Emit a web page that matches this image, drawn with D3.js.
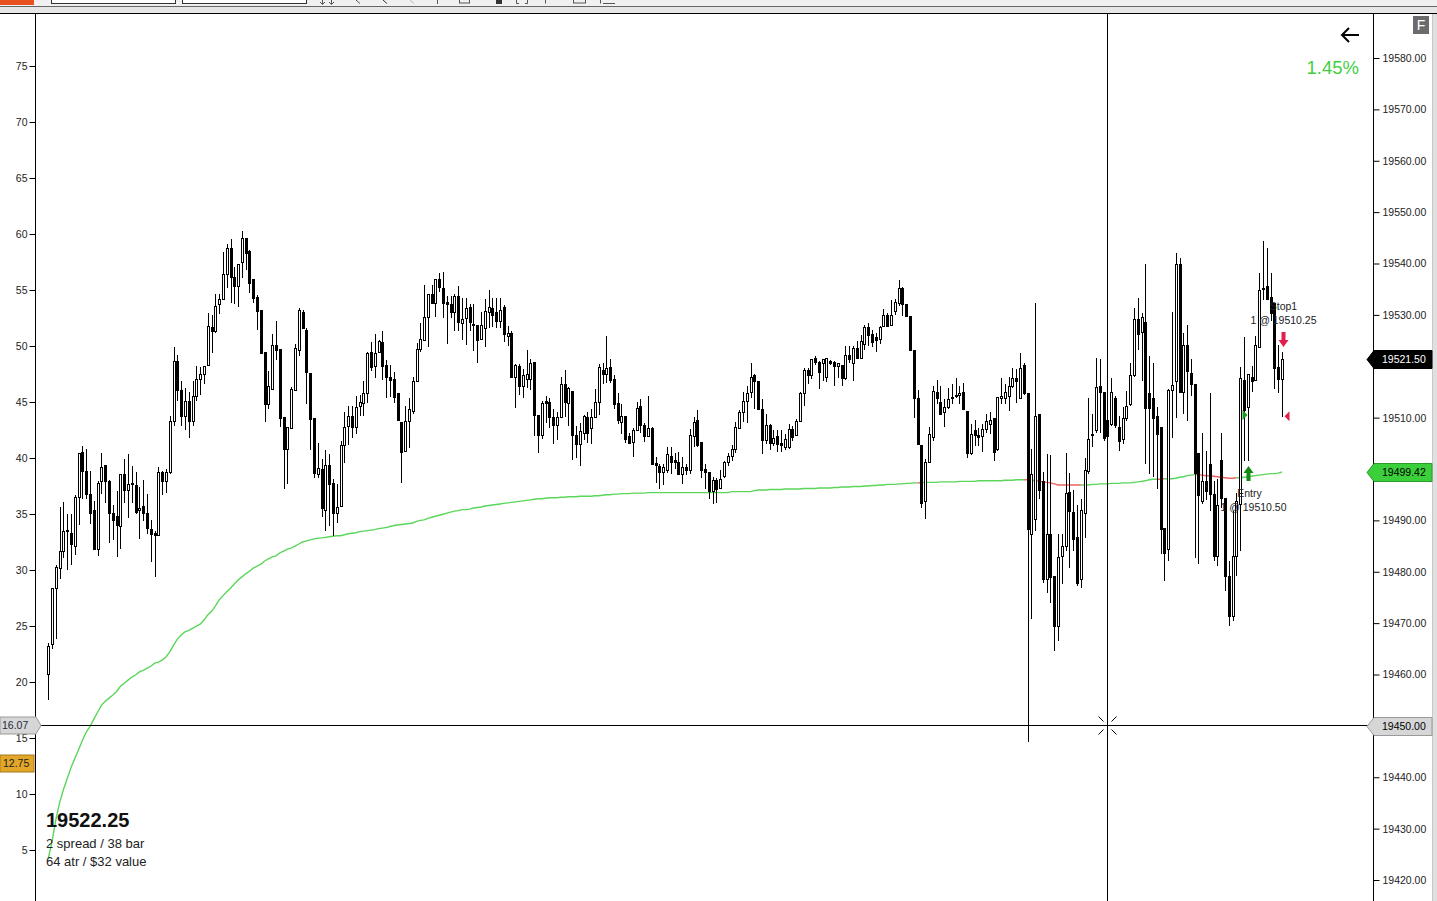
<!DOCTYPE html>
<html><head><meta charset="utf-8">
<script src="https://cdn.jsdelivr.net/npm/d3@7"></script>
<style>
html,body{margin:0;padding:0;background:#fff;overflow:hidden}
svg{display:block}
text{font-family:"Liberation Sans",Arial,sans-serif}
</style></head><body>
<svg id="c" width="1437" height="901"></svg>
<script>
// ---------------- DATA ----------------
const candleOpen = [19460.1,19465.9,19476.8,19480.7,19484.1,19488.0,19487.6,19485.0,19494.6,19503.4,
19499.7,19495.2,19492.0,19484.4,19497.7,19500.8,19497.7,19491.5,19490.9,19488.9,
19499.1,19495.9,19497.3,19496.9,19492.0,19492.8,19491.5,19488.3,19487.6,19487.2,
19499.5,19497.7,19499.5,19509.4,19521.1,19515.3,19510.4,19513.3,19509.4,19514.3,
19517.6,19518.4,19520.3,19527.7,19526.8,19532.2,19533.0,19537.9,19543.1,19537.3,
19535.7,19540.2,19544.9,19542.4,19536.9,19533.4,19530.9,19522.7,19512.7,19515.6,
19524.2,19523.4,19510.2,19503.9,19507.9,19515.4,19523.2,19530.5,19527.1,19518.6,
19510.0,19499.1,19500.0,19492.0,19500.8,19497.3,19491.5,19492.8,19504.7,19508.4,
19510.4,19508.1,19512.3,19512.9,19514.7,19522.7,19520.1,19522.7,19524.8,19520.3,
19518.0,19517.6,19514.7,19509.2,19503.6,19509.4,19511.2,19517.2,19523.4,19525.2,
19529.5,19534.0,19532.4,19536.9,19535.3,19532.6,19532.2,19530.5,19533.6,19528.5,
19529.3,19531.6,19528.3,19528.1,19525.4,19527.5,19530.5,19531.4,19530.5,19528.9,
19531.6,19525.8,19526.4,19518.0,19520.1,19516.2,19517.6,19517.6,19520.9,19510.6,
19506.7,19513.3,19513.1,19510.2,19508.6,19510.2,19516.6,19512.9,19515.1,19506.7,
19504.9,19507.1,19510.2,19507.9,19510.2,19513.1,19519.3,19518.4,19519.9,19517.6,
19512.9,19509.2,19510.4,19506.5,19505.3,19507.5,19512.3,19508.6,19506.5,19507.9,
19501.2,19500.6,19499.5,19499.9,19502.6,19501.8,19501.4,19499.1,19500.4,19499.9,
19506.5,19509.6,19505.3,19500.0,19499.5,19495.8,19497.9,19496.3,19498.7,19501.4,
19502.6,19503.9,19507.9,19511.0,19513.3,19514.9,19518.2,19517.2,19511.7,19505.7,
19508.6,19505.1,19506.5,19505.1,19504.2,19504.2,19507.7,19506.7,19509.4,19514.7,
19519.3,19518.2,19521.7,19520.9,19520.7,19518.0,19521.1,19520.9,19520.1,19520.3,
19517.8,19522.1,19520.7,19523.6,19521.7,19524.4,19527.7,19526.2,19525.6,19525.4,
19527.9,19529.9,19528.1,19530.7,19532.4,19535.3,19532.2,19529.7,19523.2,19513.9,
19504.7,19493.8,19501.4,19506.3,19514.9,19513.1,19511.0,19512.0,19513.9,19514.5,
19514.5,19514.9,19511.2,19503.2,19507.5,19506.7,19506.5,19507.7,19508.8,19510.0,
19503.9,19513.9,19513.9,19514.3,19516.2,19517.8,19513.9,19520.3,19514.7,19487.4,
19490.3,19510.8,19497.7,19478.6,19487.4,19479.2,19469.4,19483.1,19485.0,19495.6,
19491.7,19486.8,19478.6,19491.5,19499.7,19506.7,19507.5,19516.1,19514.9,19509.6,
19508.8,19513.9,19508.2,19505.9,19510.0,19512.7,19518.2,19529.1,19526.6,19528.7,
19514.7,19513.9,19510.4,19508.2,19488.5,19484.4,19515.4,19517.2,19540.0,19514.9,
19524.2,19518.6,19516.6,19503.2,19493.8,19497.7,19501.0,19495.2,19483.1,19501.8,
19494.4,19479.2,19471.4,19483.1,19493.2,19517.4,19512.0,19518.0,19517.4,19523.7,
19535.2,19535.7,19533.4,19532.4,19519.9,19517.6];

const candleHigh = [19466.1,19476.8,19481.3,19492.6,19493.6,19491.3,19491.3,19495.0,19503.2,19504.5,
19503.9,19499.7,19493.8,19497.7,19503.2,19500.8,19497.9,19493.0,19495.8,19499.1,
19502.0,19503.0,19500.6,19499.5,19496.5,19497.9,19495.2,19490.1,19488.0,19500.4,
19499.7,19500.0,19510.4,19523.7,19522.1,19517.2,19515.7,19514.9,19517.2,19520.1,
19519.9,19520.1,19530.3,19529.9,19534.0,19534.0,19542.2,19543.7,19544.7,19539.4,
19540.0,19546.3,19544.9,19542.7,19536.9,19533.8,19530.9,19522.7,19519.0,19526.2,
19528.9,19523.4,19510.2,19508.1,19516.0,19524.4,19531.4,19530.9,19527.5,19518.6,
19510.0,19505.1,19502.0,19503.7,19503.0,19498.1,19497.1,19505.5,19511.0,19512.3,
19512.3,19514.3,19514.5,19517.2,19522.7,19524.8,19526.2,19525.2,19526.8,19521.3,
19520.3,19518.8,19514.7,19509.2,19512.3,19513.9,19518.0,19524.6,19528.5,19535.9,
19534.0,19535.9,19536.9,19538.1,19538.3,19533.6,19533.6,19534.0,19535.7,19533.2,
19533.2,19532.2,19532.2,19528.1,19530.5,19533.0,19534.8,19533.2,19533.2,19533.2,
19532.0,19527.9,19526.8,19520.5,19520.5,19519.5,19523.2,19521.5,19520.9,19510.6,
19513.3,19514.3,19513.9,19511.7,19511.0,19518.0,19519.2,19516.0,19515.1,19508.4,
19509.0,19510.6,19511.0,19511.7,19515.6,19520.5,19520.7,19525.8,19521.5,19518.2,
19514.7,19512.7,19510.4,19507.1,19507.9,19513.1,19513.7,19509.0,19514.3,19508.1,
19502.4,19501.0,19501.0,19504.2,19504.2,19503.2,19503.4,19502.4,19501.0,19507.7,
19510.2,19511.5,19505.3,19501.0,19499.5,19498.5,19498.3,19499.9,19501.6,19503.2,
19504.7,19509.2,19511.5,19514.9,19516.2,19520.7,19518.4,19517.2,19513.7,19510.8,
19508.8,19507.5,19507.5,19507.5,19506.9,19508.8,19508.4,19509.8,19514.9,19519.7,
19519.7,19521.5,19521.9,19521.1,19521.5,19521.7,19521.3,19521.1,19520.7,19520.3,
19524.0,19524.0,19524.0,19525.0,19526.0,19528.1,19528.5,19527.0,19526.4,19527.9,
19531.1,19530.3,19532.8,19533.0,19536.7,19535.5,19532.2,19529.7,19523.2,19515.3,
19504.7,19502.0,19508.1,19516.2,19517.4,19516.2,19513.7,19515.7,19516.6,19517.8,
19516.2,19516.8,19511.2,19508.8,19509.6,19507.9,19508.8,19510.8,19511.0,19510.0,
19514.1,19517.8,19516.6,19518.0,19519.7,19519.5,19522.5,19520.7,19514.7,19503.9,
19532.4,19510.8,19499.5,19503.0,19502.8,19479.2,19487.4,19487.4,19503.2,19499.3,
19496.0,19492.9,19494.2,19502.2,19513.9,19510.8,19521.7,19521.5,19514.9,19518.0,
19517.8,19514.3,19510.4,19512.1,19515.1,19520.7,19531.4,19533.2,19530.3,19540.0,
19521.9,19520.7,19512.1,19508.2,19488.5,19515.6,19530.5,19542.0,19541.0,19526.4,
19528.1,19521.5,19516.6,19503.2,19507.1,19503.6,19514.7,19497.7,19498.1,19507.1,
19494.4,19482.1,19491.9,19495.4,19519.9,19525.6,19518.4,19520.1,19525.8,19538.1,
19544.3,19543.0,19538.1,19532.4,19524.2,19522.7];

const candleLow = [19455.0,19464.9,19466.9,19478.6,19482.7,19480.3,19481.3,19483.3,19489.1,19494.2,
19494.2,19489.3,19484.4,19483.1,19495.2,19493.4,19485.6,19486.2,19482.9,19484.4,
19493.4,19490.5,19493.4,19491.3,19486.4,19489.9,19487.4,19481.9,19479.0,19487.0,
19495.0,19495.4,19499.1,19508.4,19513.3,19508.4,19507.5,19506.1,19508.4,19513.3,
19514.5,19516.6,19520.3,19522.5,19526.4,19530.1,19533.0,19535.2,19532.4,19532.2,
19531.6,19537.1,19538.7,19534.2,19532.4,19527.1,19522.3,19509.2,19511.6,19515.6,
19521.3,19508.1,19496.1,19497.1,19507.9,19515.4,19521.9,19527.5,19512.7,19503.7,
19498.3,19498.3,19490.7,19488.0,19489.0,19487.0,19489.5,19492.8,19501.2,19504.7,
19506.1,19506.9,19510.4,19510.4,19512.9,19519.0,19517.8,19522.7,19517.4,19513.9,
19514.1,19512.9,19509.6,19497.3,19503.6,19504.0,19510.8,19517.0,19522.7,19525.2,
19523.7,19532.2,19529.5,19534.4,19529.3,19524.4,19529.3,19526.8,19526.8,19525.2,
19524.2,19526.8,19522.9,19520.7,19525.2,19523.8,19527.5,19527.7,19527.5,19527.5,
19524.8,19524.0,19517.8,19511.9,19514.5,19513.9,19515.8,19515.4,19506.5,19503.2,
19505.9,19509.0,19507.9,19504.9,19505.7,19510.2,19510.2,19508.4,19501.8,19502.2,
19500.6,19505.7,19505.1,19504.9,19510.0,19510.6,19516.6,19516.8,19516.8,19511.7,
19508.8,19506.9,19505.1,19504.9,19502.4,19507.3,19507.1,19505.3,19506.3,19500.8,
19497.3,19496.1,19496.9,19499.3,19499.1,19500.0,19498.9,19497.1,19498.9,19499.1,
19504.2,19504.2,19498.3,19496.1,19494.2,19493.2,19493.4,19496.1,19498.3,19500.6,
19501.6,19503.2,19507.7,19509.2,19509.0,19513.9,19511.7,19511.7,19503.0,19504.9,
19503.7,19504.5,19503.4,19503.4,19503.7,19503.9,19505.5,19506.5,19509.4,19512.3,
19516.6,19517.6,19520.3,19515.6,19517.2,19517.0,19520.3,19516.2,19517.8,19516.2,
19517.4,19520.7,19517.2,19521.5,19521.5,19523.1,19524.0,19523.7,19522.7,19524.4,
19527.7,19527.7,19527.9,19529.9,19531.8,19529.7,19529.7,19523.2,19510.0,19504.7,
19492.4,19490.3,19501.4,19505.5,19512.7,19510.8,19508.1,19511.6,19512.7,19513.9,
19512.7,19511.6,19502.2,19502.8,19504.5,19504.5,19503.4,19507.1,19506.9,19501.6,
19503.6,19512.7,19512.7,19511.2,19515.8,19512.9,19513.9,19514.5,19446.8,19470.8,
19488.0,19494.2,19477.8,19475.9,19473.9,19464.6,19466.5,19477.6,19484.1,19480.8,
19484.1,19477.3,19476.9,19486.6,19499.1,19504.2,19507.1,19507.1,19505.5,19506.1,
19508.4,19507.9,19503.6,19504.9,19509.4,19512.3,19518.0,19523.1,19517.2,19501.0,
19499.1,19498.5,19496.1,19483.5,19478.2,19482.1,19506.1,19510.0,19514.9,19510.8,
19509.4,19514.3,19482.7,19481.5,19493.2,19494.0,19491.9,19482.1,19481.2,19492.5,
19476.3,19469.4,19470.4,19479.2,19484.1,19501.6,19501.6,19514.9,19517.2,19523.7,
19532.8,19532.8,19528.9,19515.6,19514.7,19510.2];

const candleClose = [19465.5,19476.8,19480.9,19484.1,19488.0,19488.2,19485.4,19494.6,19503.2,19499.7,
19495.2,19491.5,19484.4,19497.3,19500.4,19497.7,19491.5,19490.1,19489.1,19499.1,
19495.9,19497.1,19497.1,19491.7,19492.4,19491.5,19488.5,19487.4,19487.2,19499.5,
19497.7,19499.5,19509.4,19521.1,19515.3,19510.4,19513.3,19509.4,19514.3,19517.6,
19518.4,19520.1,19527.9,19526.8,19531.8,19533.0,19537.9,19543.1,19537.3,19535.7,
19540.0,19544.9,19542.0,19536.3,19533.2,19530.7,19522.5,19512.7,19516.2,19524.2,
19523.2,19510.0,19503.9,19508.1,19515.6,19523.6,19530.9,19527.5,19518.8,19509.8,
19499.3,19500.2,19492.4,19500.8,19497.1,19491.5,19492.6,19504.7,19508.2,19510.4,
19508.1,19512.1,19513.1,19514.7,19522.5,19519.9,19522.5,19525.0,19520.1,19518.0,
19517.4,19514.1,19509.6,19503.4,19509.4,19511.7,19517.2,19523.4,19525.4,19529.5,
19534.0,19532.4,19536.9,19535.5,19532.4,19532.2,19530.5,19533.6,19528.7,19529.1,
19531.4,19528.7,19528.1,19525.2,19528.1,19530.7,19531.6,19529.9,19528.9,19530.9,
19526.2,19526.4,19518.0,19520.3,19516.2,19518.2,19518.4,19520.7,19510.6,19506.7,
19512.9,19512.9,19510.2,19508.6,19510.2,19516.6,19513.1,19515.8,19506.7,19504.9,
19507.3,19510.4,19507.1,19510.2,19513.1,19519.9,19518.4,19519.7,19517.4,19512.7,
19509.6,19510.4,19505.9,19505.1,19507.5,19511.9,19508.6,19506.5,19507.9,19501.0,
19500.8,19499.5,19500.4,19503.0,19501.4,19501.4,19499.1,19500.4,19499.9,19506.7,
19509.2,19504.7,19499.9,19499.5,19495.8,19497.9,19496.1,19498.1,19501.4,19502.6,
19503.9,19508.2,19511.0,19513.3,19514.7,19518.0,19517.2,19511.7,19505.7,19508.6,
19505.1,19506.1,19504.9,19504.7,19505.9,19507.7,19506.3,19509.4,19514.7,19519.2,
19518.2,19521.5,19520.9,19518.8,19521.5,19521.7,19520.7,19520.1,19520.7,19517.8,
19522.1,19521.5,19523.6,19521.7,19525.0,19527.7,19526.0,19524.8,19525.2,19527.7,
19529.9,19527.9,19529.9,19532.6,19535.2,19532.2,19529.7,19523.2,19513.9,19504.9,
19493.4,19501.4,19506.9,19515.1,19513.9,19510.8,19512.1,19513.7,19514.1,19514.3,
19514.7,19511.7,19503.2,19506.9,19506.7,19506.3,19507.7,19509.4,19509.6,19503.4,
19514.1,19514.3,19514.9,19516.2,19517.8,19517.2,19519.7,19514.7,19488.3,19499.1,
19510.4,19496.0,19478.6,19487.4,19479.0,19469.4,19482.9,19485.0,19495.4,19491.9,
19486.4,19477.8,19492.1,19499.9,19505.9,19506.9,19515.9,19514.9,19506.1,19506.5,
19514.9,19508.6,19505.5,19510.0,19512.3,19518.2,19529.1,19526.2,19529.5,19511.9,
19511.9,19510.0,19506.9,19488.3,19483.7,19515.4,19516.4,19540.0,19514.9,19524.2,
19519.0,19516.6,19499.3,19495.0,19497.7,19495.8,19495.2,19483.1,19492.9,19494.4,
19479.2,19471.4,19483.1,19493.8,19517.8,19511.4,19518.4,19517.2,19524.2,19534.8,
19535.0,19533.0,19530.3,19519.7,19517.6,19521.5];

const maValues = [19424.2,19427.5,19431.8,19435.1,19437.6,19439.8,19441.9,19443.7,19445.4,19447.2,
19448.8,19449.9,19451.3,19452.7,19454.0,19454.8,19455.4,19456.0,19456.7,19457.7,
19458.3,19458.9,19459.5,19459.9,19460.5,19460.8,19461.2,19461.6,19462.2,19462.4,
19462.8,19463.4,19464.4,19465.7,19466.9,19467.7,19468.3,19468.6,19469.0,19469.4,
19469.8,19470.6,19471.6,19472.3,19473.3,19474.5,19475.3,19476.1,19476.8,19477.6,
19478.4,19479.0,19479.6,19480.1,19480.7,19481.1,19481.5,19482.1,19482.5,19482.9,
19483.1,19483.7,19484.0,19484.4,19484.6,19485.0,19485.4,19485.8,19486.0,19486.2,
19486.4,19486.5,19486.6,19486.7,19486.8,19486.9,19487.0,19487.0,19487.2,19487.4,
19487.5,19487.6,19487.8,19487.9,19488.0,19488.1,19488.2,19488.4,19488.5,19488.6,
19488.8,19489.0,19489.1,19489.2,19489.3,19489.4,19489.5,19489.8,19490.0,19490.1,
19490.4,19490.6,19490.8,19491.0,19491.2,19491.4,19491.6,19491.8,19491.9,19492.1,
19492.1,19492.2,19492.4,19492.5,19492.6,19492.8,19492.9,19493.0,19493.1,19493.2,
19493.3,19493.4,19493.5,19493.6,19493.7,19493.8,19493.9,19494.0,19494.1,19494.2,
19494.2,19494.3,19494.4,19494.4,19494.4,19494.5,19494.5,19494.6,19494.6,19494.6,
19494.7,19494.7,19494.7,19494.7,19494.8,19494.8,19494.9,19495.0,19495.0,19495.1,
19495.1,19495.2,19495.2,19495.2,19495.3,19495.3,19495.3,19495.3,19495.4,19495.4,
19495.4,19495.4,19495.4,19495.4,19495.4,19495.4,19495.4,19495.4,19495.4,19495.4,
19495.4,19495.4,19495.4,19495.4,19495.4,19495.4,19495.4,19495.4,19495.4,19495.4,
19495.6,19495.6,19495.6,19495.6,19495.6,19495.6,19495.8,19495.9,19495.9,19495.9,
19496.0,19496.0,19496.0,19496.0,19496.1,19496.1,19496.1,19496.1,19496.1,19496.2,
19496.2,19496.2,19496.2,19496.3,19496.3,19496.3,19496.3,19496.4,19496.4,19496.5,
19496.5,19496.5,19496.6,19496.6,19496.6,19496.7,19496.7,19496.8,19496.8,19496.9,
19496.9,19497.0,19497.0,19497.0,19497.1,19497.1,19497.2,19497.2,19497.3,19497.3,
19497.3,19497.4,19497.4,19497.4,19497.4,19497.5,19497.5,19497.5,19497.5,19497.5,
19497.6,19497.6,19497.6,19497.6,19497.6,19497.7,19497.7,19497.7,19497.7,19497.7,
19497.7,19497.7,19497.8,19497.8,19497.8,19497.9,19497.9,19497.9,19497.9,19497.8,
19497.7,19497.6,19497.5,19497.4,19497.3,19497.1,19496.9,19496.9,19496.9,19496.9,
19496.9,19496.9,19496.9,19496.9,19496.9,19497.0,19497.0,19497.1,19497.1,19497.1,
19497.2,19497.2,19497.2,19497.3,19497.3,19497.3,19497.4,19497.5,19497.6,19497.7,
19497.9,19498.0,19498.0,19498.0,19498.1,19498.1,19498.1,19498.2,19498.4,19498.5,
19498.7,19498.8,19498.9,19498.9,19498.8,19498.7,19498.7,19498.6,19498.5,19498.4,
19498.3,19498.2,19498.2,19498.3,19498.3,19498.4,19498.5,19498.6,19498.7,19498.8,
19498.9,19499.0,19499.1,19499.1,19499.2,19499.42];

const priceTicks = [19420,19430,19440,19450,19460,19470,19480,19490,19500,19510,19520,19530,19540,19550,19560,19570,19580];
const leftTicks = [5,10,15,20,25,30,35,40,45,50,55,60,65,70,75];

const tradeLabels = ["Entry", "Stop1"];
const tradeBars = [316, 325];
const tradePrices = [19510.50, 19510.25];
const tradeQty = [1, 1];

const infoLines = ["19522.25", "2 spread / 38 bar", "64 atr / $32 value"];
const lastPrice = 19521.50;
const maLast = 19499.42;
const crossPrice = 19450.00;
const crossLeftValue = 16.07;
const crossBar = 278.9;
const leftMarkerValue = 12.75;
const pnlText = "1.45%";

// ---------------- DRAW ----------------
const W = 1437, H = 901;
const svg = d3.select('#c');
const xBar = d3.scaleLinear().domain([0, 325]).range([48.3, 1282]);
const yPrice = d3.scaleLinear().domain([19420, 19580]).range([880, 58]);
const yLeft = d3.scaleLinear().domain([0, 80]).range([906, 10]);
const fmt2 = d3.format(".2f");

svg.append('rect').attr('width', W).attr('height', H).attr('fill', '#fff');

// toolbar
svg.append('rect').attr('x',0).attr('y',0).attr('width',W).attr('height',6).attr('fill','#f0f0f0');
svg.append('rect').attr('x',0).attr('y',7).attr('width',W).attr('height',6).attr('fill','#e6e6e6');
svg.append('line').attr('x1',0).attr('x2',W).attr('y1',6.5).attr('y2',6.5).attr('stroke','#666');
svg.append('rect').attr('x',0).attr('y',0).attr('width',34).attr('height',5).attr('fill','#e8501f');
[[51.5,124],[182.5,124]].forEach(b=>{
  svg.append('rect').attr('x',b[0]).attr('y',-3).attr('width',b[1]).attr('height',6.5)
    .attr('fill','#fff').attr('stroke','#333');
});
const tb = svg.append('g').attr('stroke','#555').attr('fill','none').attr('stroke-width',1);
tb.append('path').attr('d','M322.5,0V4M325,2L322.5,4.5L320,2M331.5,0V4M334,2L331.5,4.5L329,2');
tb.append('path').attr('d','M356,0L360,3.5');
tb.append('path').attr('d','M383,0L387,3.5').attr('stroke','#333');
tb.append('path').attr('d','M410,0L414,3.5').attr('stroke','#bbb');
tb.append('path').attr('d','M437.5,0V4');
tb.append('rect').attr('x',459.5).attr('y',-2).attr('width',10).attr('height',5);
svg.append('rect').attr('x',496).attr('y',0).attr('width',6).attr('height',4).attr('fill','#333');
tb.append('path').attr('d','M516.5,0V3.5H519M527.5,0V3.5H525');
tb.append('path').attr('d','M545.5,0V3.5');
tb.append('rect').attr('x',573.5).attr('y',-2).attr('width',12).attr('height',5);
tb.append('path').attr('d','M600.5,0V3.5M603,3.5H615');

// plot frame
svg.append('line').attr('x1',0).attr('x2',W).attr('y1',13.5).attr('y2',13.5).attr('stroke','#000');
svg.append('rect').attr('x',1433).attr('y',14).attr('width',4).attr('height',H-14).attr('fill','#e0e0e0');
svg.append('line').attr('x1',1432.5).attr('x2',1432.5).attr('y1',14).attr('y2',H).attr('stroke','#c8c8c8');

const defs = svg.append('defs');
defs.append('clipPath').attr('id','plotClip').append('rect')
  .attr('x',36).attr('y',14).attr('width',1337).attr('height',H-14);
const plot = svg.append('g').attr('clip-path','url(#plotClip)');

// moving-average line, coloured per bar (red when close below it)
const maLine = d3.line().x(i => xBar(i)).y(i => yPrice(maValues[i]));
const segColor = i => candleClose[i] < maValues[i] ? '#f06060' : '#5ad65a';
let runStart = 0;
for (let i = 1; i < maValues.length; i++) {
  const c = segColor(i);
  const next = i + 1 < maValues.length ? segColor(i + 1) : null;
  if (next !== c) {
    const pts = d3.range(runStart, i + 1);
    plot.append('path').attr('d', maLine(pts)).attr('fill','none')
      .attr('stroke', c).attr('stroke-width', 1.4);
    runStart = i;
  }
}

// candles
const candles = plot.append('g');
candleOpen.forEach((o, i) => {
  const h = candleHigh[i], l = candleLow[i], c = candleClose[i];
  const cx = Math.round(xBar(i));
  candles.append('line').attr('x1', cx + 0.5).attr('x2', cx + 0.5)
    .attr('y1', Math.round(yPrice(h))).attr('y2', Math.round(yPrice(l)))
    .attr('stroke', '#000').attr('stroke-width', 1);
  const top = Math.round(yPrice(Math.max(o, c)));
  const bot = Math.round(yPrice(Math.min(o, c)));
  candles.append('rect').attr('x', cx - 0.5).attr('y', top + 0.5)
    .attr('width', 2).attr('height', Math.max(1, bot - top))
    .attr('fill', c >= o ? '#fff' : '#000').attr('stroke', '#000').attr('stroke-width', 1);
});

// trade markers
const ann = plot.append('g');
{
  const ex = Math.round(xBar(tradeBars[0])) + 0.5;
  const ey = yPrice(tradePrices[0]);
  ann.append('path').attr('d', `M${ex-6},${ey-5}L${ex-1},${ey}L${ex-6},${ey+5}Z`).attr('fill','#1a9a1a');
  const ay = Math.round(yPrice(candleLow[tradeBars[0]])) + 5;
  ann.append('path').attr('d', `M${ex},${ay}L${ex+5},${ay+7}H${ex+2}V${ay+15}H${ex-2}V${ay+7}H${ex-5}Z`).attr('fill','#138a13');
  ann.append('text').attr('x', ex + 1).attr('y', ay + 31).attr('text-anchor','middle')
    .attr('font-size', 10.5).attr('fill','#222').text(tradeLabels[0]);
  ann.append('text').attr('x', ex + 5).attr('y', ay + 45).attr('text-anchor','middle')
    .attr('font-size', 10.5).attr('fill','#222').text(`${tradeQty[0]} @ ${fmt2(tradePrices[0])}`);

  const sx = Math.round(xBar(tradeBars[1])) + 0.5;
  const sy = yPrice(tradePrices[1]);
  ann.append('path').attr('d', `M${sx+7},${sy-5}L${sx+2},${sy}L${sx+7},${sy+5}Z`).attr('fill','#e0204a');
  const by = Math.round(yPrice(candleHigh[tradeBars[1]])) - 5;
  ann.append('path').attr('d', `M${sx+1},${by}L${sx+6},${by-7}H${sx+3}V${by-15}H${sx-1}V${by-7}H${sx-4}Z`).attr('fill','#e0204a');
  ann.append('text').attr('x', sx + 1).attr('y', by - 37).attr('text-anchor','middle')
    .attr('font-size', 10.5).attr('fill','#222').text(tradeLabels[1]);
  ann.append('text').attr('x', sx + 1).attr('y', by - 23).attr('text-anchor','middle')
    .attr('font-size', 10.5).attr('fill','#222').text(`${tradeQty[1]} @ ${fmt2(tradePrices[1])}`);
}

// crosshair
const chx = Math.round(xBar(crossBar)) + 0.5;
const chy = Math.round(yPrice(crossPrice)) - 0.5;
svg.append('line').attr('x1', chx).attr('x2', chx).attr('y1', 14).attr('y2', H).attr('stroke','#000');
svg.append('line').attr('x1', 36).attr('x2', 1373).attr('y1', chy).attr('y2', chy).attr('stroke','#000');
[[-1,-1],[1,-1],[-1,1],[1,1]].forEach(([sx, sy]) => {
  svg.append('line').attr('x1', chx + sx*4).attr('y1', chy + sy*4)
    .attr('x2', chx + sx*9).attr('y2', chy + sy*9).attr('stroke','#000');
});

// axes
const leftAxis = d3.axisLeft(yLeft).tickValues(leftTicks).tickSize(6).tickPadding(2);
const gL = svg.append('g').attr('transform','translate(35.5,0)').call(leftAxis);
gL.select('.domain').remove();
gL.selectAll('line').attr('stroke','#000');
gL.selectAll('text').attr('font-size',10.5).attr('fill','#222')
  .attr('font-family','"Liberation Sans",Arial,sans-serif');
svg.append('line').attr('x1',35.5).attr('x2',35.5).attr('y1',13).attr('y2',H).attr('stroke','#000');

const tagPrices = [lastPrice, maLast, crossPrice];
const rightAxis = d3.axisRight(yPrice).tickValues(priceTicks).tickFormat(fmt2).tickSize(6).tickPadding(3);
const gR = svg.append('g').attr('transform','translate(1373.5,0)').call(rightAxis);
gR.select('.domain').remove();
gR.selectAll('line').attr('stroke','#000');
gR.selectAll('text').attr('font-size',10.5).attr('fill','#222')
  .attr('font-family','"Liberation Sans",Arial,sans-serif')
  // labels hidden underneath a price tag in the original are not drawn
  .style('display', d => tagPrices.some(p => Math.abs(yPrice(p) - yPrice(d)) < 12) ? 'none' : null);
svg.append('line').attr('x1',1373.5).attr('x2',1373.5).attr('y1',13).attr('y2',H).attr('stroke','#000');

// right tags
function rightTag(price, fill, stroke, txtColor) {
  const cy = Math.round(yPrice(price)) + 0.5;
  svg.append('path').attr('d', `M1367,${cy}L1374,${cy-9}H1432V${cy+9}H1374Z`)
    .attr('fill', fill).attr('stroke', stroke).attr('stroke-width', 1);
  svg.append('text').attr('x', 1382).attr('y', cy).attr('dy','0.35em')
    .attr('font-size', 10.5).attr('fill', txtColor).text(fmt2(price));
}
rightTag(lastPrice, '#000', '#000', '#fff');
rightTag(maLast, '#3ccf3c', '#2a9a2a', '#000');
rightTag(crossPrice, '#d6d6d6', '#9a9a9a', '#000');

// left tags
{
  const cy = Math.round(yLeft(crossLeftValue)) - 0.5;
  svg.append('path').attr('d', `M0,${cy-8.5}H36L41,${cy}L36,${cy+8.5}H0Z`)
    .attr('fill','#d6d6d6').attr('stroke','#9a9a9a');
  svg.append('text').attr('x', 2).attr('y', cy).attr('dy','0.35em')
    .attr('font-size', 10.5).attr('fill','#1d2a3a').text(fmt2(crossLeftValue));
  const oy = Math.round(yLeft(leftMarkerValue)) + 0.5;
  svg.append('rect').attr('x', 0).attr('y', oy - 8.5).attr('width', 34).attr('height', 17)
    .attr('fill','#e2a628').attr('stroke','#a8781a');
  svg.append('text').attr('x', 3).attr('y', oy).attr('dy','0.35em')
    .attr('font-size', 10.5).attr('fill','#222').text(fmt2(leftMarkerValue));
}

// top-right widgets
svg.append('rect').attr('x',1413).attr('y',16).attr('width',16).attr('height',18).attr('fill','#6b6b6b');
svg.append('text').attr('x',1421).attr('y',30).attr('text-anchor','middle')
  .attr('font-size',14).attr('fill','#fff').text('F');
svg.append('path').attr('d','M1342,35H1359M1349,28L1342,35L1349,42')
  .attr('fill','none').attr('stroke','#000').attr('stroke-width',2);
svg.append('text').attr('x',1359).attr('y',74).attr('text-anchor','end')
  .attr('font-size',18.5).attr('fill','#3fcf3f').text(pnlText);

// info text
svg.append('text').attr('x',46).attr('y',827).attr('font-size',20).attr('font-weight','bold')
  .attr('fill','#111').text(infoLines[0]);
svg.append('text').attr('x',46).attr('y',848).attr('font-size',13).attr('fill','#222').text(infoLines[1]);
svg.append('text').attr('x',46).attr('y',866).attr('font-size',13).attr('fill','#222').text(infoLines[2]);
</script>
</body></html>
